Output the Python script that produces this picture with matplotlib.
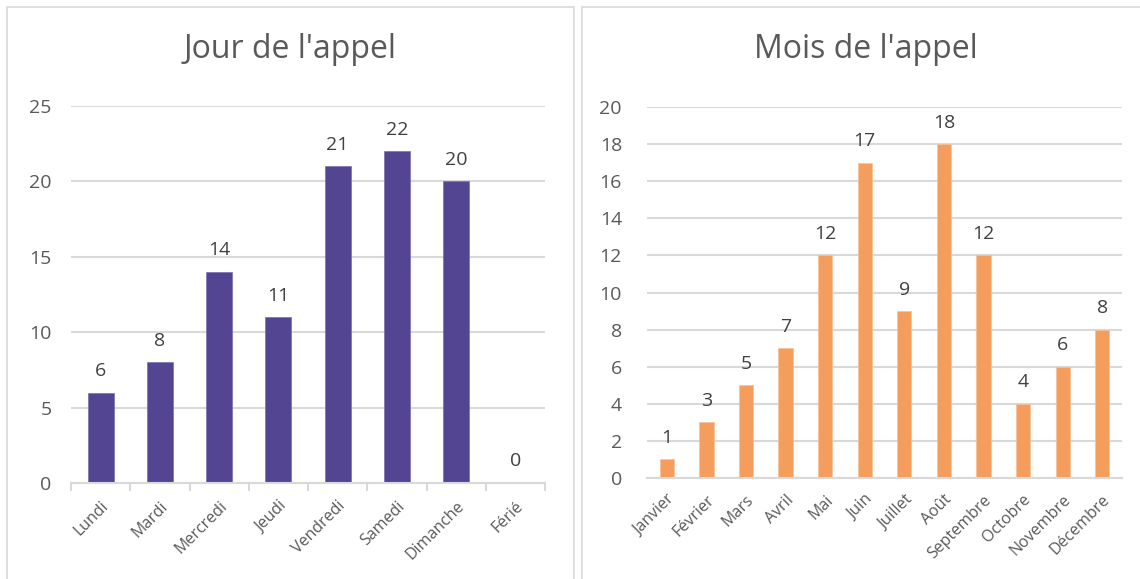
import matplotlib
matplotlib.use("Agg")
import matplotlib.pyplot as plt
from matplotlib.patches import Rectangle
from matplotlib.ticker import MultipleLocator, FixedLocator

plt.rcParams['font.family'] = ['Open Sans', 'DejaVu Sans']

# Day of the call
days = ["Lundi", "Mardi", "Mercredi", "Jeudi", "Vendredi", "Samedi", "Dimanche", "Férié"]
day_counts = [6, 8, 14, 11, 21, 22, 20, 0]

# Month of the call
months = ["Janvier", "Février", "Mars", "Avril", "Mai", "Juin", "Juillet", "Août",
          "Septembre", "Octobre", "Novembre", "Décembre"]
month_counts = [1, 3, 5, 7, 12, 17, 9, 18, 12, 4, 6, 8]

TEXT = "#595959"
GRID = "#D9D9D9"
PURPLE = "#534592"
ORANGE = "#F59D5C"

W, H = 1140, 579
fig = plt.figure(figsize=(W / 100, H / 100), dpi=100)


def fx(px):
    return px / W


def fy(py):
    return 1 - py / H


# panel frames
for x0, x1 in [(7, 574), (582, 1160)]:
    fig.patches.append(Rectangle((fx(x0), fy(600)), fx(x1 - x0), fy(7) - fy(600),
                                 transform=fig.transFigure, fill=False,
                                 edgecolor=GRID, linewidth=1.2))


def style_axes(ax, ymax, step, pad):
    ax.set_ylim(0, ymax)
    ax.yaxis.set_major_locator(MultipleLocator(step))
    ax.grid(axis='y', color=GRID, linewidth=1.5)
    ax.set_axisbelow(True)
    for s in ["top", "right", "left"]:
        ax.spines[s].set_visible(False)
    ax.spines["bottom"].set_color(GRID)
    ax.spines["bottom"].set_linewidth(1.5)
    ax.tick_params(axis='y', length=0, labelsize=14, labelcolor=TEXT, pad=pad)


# --- Jour de l'appel ---
ax1 = fig.add_axes([fx(71), fy(483), fx(545 - 71), fy(106) - fy(483)])
x1 = range(len(days))
bars1 = ax1.bar(x1, day_counts, width=0.44, color=PURPLE, edgecolor="#7A6FB0", linewidth=0.5)
ax1.set_xlim(-0.5, len(days) - 0.5)
style_axes(ax1, 25, 5, 14)
ax1.set_xticks(list(x1))
ax1.set_xticklabels(days, rotation=45, ha='right', rotation_mode='anchor',
                    fontsize=11.5, color=TEXT)
ax1.tick_params(axis='x', which='major', length=0, pad=11)
ax1.xaxis.set_minor_locator(FixedLocator([i - 0.5 for i in range(len(days) + 1)]))
ax1.tick_params(axis='x', which='minor', length=6, width=1.5, color=GRID)
for b, v in zip(bars1, day_counts):
    ax1.annotate(str(v), (b.get_x() + b.get_width() / 2, v), xytext=(0, 9),
                 textcoords='offset points', ha='center', va='bottom',
                 fontsize=14, color="#404040")
fig.text(fx(290), fy(50), "Jour de l'appel", ha='center', va='center',
         fontsize=23, color=TEXT)

# --- Mois de l'appel ---
ax2 = fig.add_axes([fx(647), fy(478), fx(1122 - 647), fy(107) - fy(478)])
x2 = range(len(months))
bars2 = ax2.bar(x2, month_counts, width=0.36, color=ORANGE, edgecolor="#F8C19A", linewidth=0.5)
ax2.set_xlim(-0.5, len(months) - 0.5)
style_axes(ax2, 20, 2, 18)
ax2.set_xticks(list(x2))
ax2.set_xticklabels(months, rotation=45, ha='right', rotation_mode='anchor',
                    fontsize=11.5, color=TEXT)
ax2.tick_params(axis='x', which='major', length=0, pad=10)
for b, v in zip(bars2, month_counts):
    ax2.annotate(str(v), (b.get_x() + b.get_width() / 2, v), xytext=(0, 9),
                 textcoords='offset points', ha='center', va='bottom',
                 fontsize=14, color="#404040")
fig.text(fx(866), fy(50), "Mois de l'appel", ha='center', va='center',
         fontsize=23, color=TEXT)

fig.savefig("out.png", dpi=100, facecolor="white")
